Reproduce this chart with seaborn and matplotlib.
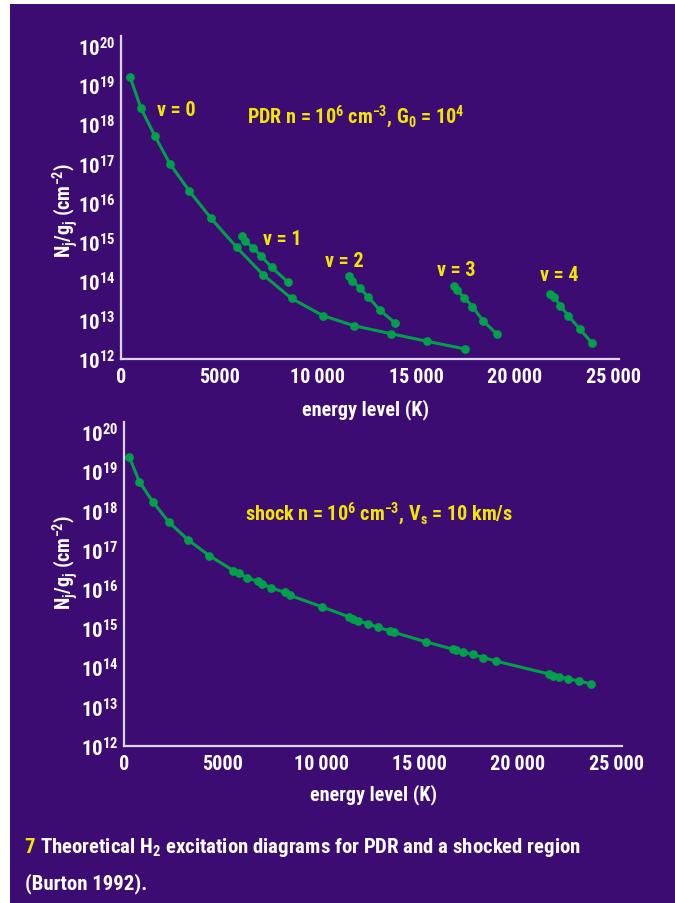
import numpy as np
import pandas as pd
import matplotlib
matplotlib.use("Agg")
import matplotlib.pyplot as plt
import matplotlib.font_manager as fm
import seaborn as sns

# ---------------- data ----------------
# PDR panel: energy (K) and log10(N_j/g_j) per vibrational level
pdr_v0_E = [470, 1015, 1726, 2487, 3467, 4570, 5870, 7208, 8663, 10254, 11844, 13700, 15570, 17460]
pdr_v0_logN = [19.20, 18.41, 17.70, 16.99, 16.30, 15.60, 14.86, 14.16, 13.55, 13.11, 12.85, 12.65, 12.45, 12.26]
pdr_v1_E = [6127, 6310, 6716, 7107, 7665, 8494]
pdr_v1_logN = [15.14, 15.02, 14.84, 14.64, 14.34, 13.96]
pdr_v2_E = [11590, 11760, 12130, 12555, 13150, 13925]
pdr_v2_logN = [14.13, 13.99, 13.82, 13.59, 13.25, 12.92]
pdr_v3_E = [16900, 17060, 17450, 17850, 18390, 19090]
pdr_v3_logN = [13.87, 13.76, 13.57, 13.34, 12.98, 12.64]
pdr_v4_E = [21810, 22010, 22320, 22720, 23300, 23910]
pdr_v4_logN = [13.67, 13.58, 13.36, 13.11, 12.77, 12.42]

# shock panel
shock_E = [254, 762, 1443, 2256, 3222, 4319, 5539, 5828, 6250, 6778, 6997, 7454, 8181, 8405,
           10061, 11402, 11606, 11860, 12398, 12907, 13501, 13720, 15330, 16717, 16855, 17226,
           17703, 18242, 18872, 21580, 21799, 22088, 22561, 23105, 23714]
shock_logN = [19.37, 18.74, 18.23, 17.71, 17.26, 16.85, 16.47, 16.40, 16.29, 16.19, 16.13, 16.03,
              15.91, 15.84, 15.54, 15.29, 15.24, 15.19, 15.11, 15.02, 14.93, 14.89, 14.65, 14.46,
              14.43, 14.40, 14.33, 14.25, 14.16, 13.83, 13.78, 13.76, 13.71, 13.65, 13.58]

x_ticks = [0, 5000, 10000, 15000, 20000, 25000]
x_ticklabels = ["0", "5000", "10\u2009000", "15\u2009000", "20\u2009000", "25\u2009000"]
y_exps = [12, 13, 14, 15, 16, 17, 18, 19, 20]

v_labels = ["v = 0", "v = 1", "v = 2", "v = 3", "v = 4"]

# ---------------- style ----------------
BG = "#3d0c73"
GREEN = "#00a04a"
YELLOW = "#f2e600"
WHITE = "#ffffff"
AXCOL = "#ddd5ee"

sns.set_theme(style="white")

names = {f.name for f in fm.fontManager.ttflist}
if "Roboto Condensed" in names:
    FAM, SC = "Roboto Condensed", 1.0
elif "Liberation Sans Narrow" in names:
    FAM, SC = "Liberation Sans Narrow", 1.0
elif "Roboto" in names:
    FAM, SC = "Roboto", 0.88
else:
    FAM, SC = "Liberation Sans", 0.86

WT = "bold"
plt.rcParams["font.family"] = [FAM, "DejaVu Sans"]
plt.rcParams["font.weight"] = WT
plt.rcParams["mathtext.fontset"] = "custom"
plt.rcParams["mathtext.rm"] = FAM + ":bold"
plt.rcParams["mathtext.it"] = FAM + ":bold"
plt.rcParams["mathtext.bf"] = FAM + ":bold"
plt.rcParams["axes.unicode_minus"] = True

fig = plt.figure(figsize=(6.75, 9.04), dpi=100)
fig.patch.set_facecolor("white")
fig.patches.append(matplotlib.patches.Rectangle((10 / 675, 0), 1 - 10 / 675, 1 - 5 / 904,
                                                transform=fig.transFigure, facecolor=BG,
                                                edgecolor="none", zorder=-10))

ax1 = fig.add_axes([121 / 675, 1 - 360 / 904, 498 / 675, 323 / 904])
ax2 = fig.add_axes([124.3 / 675, 1 - 746.7 / 904, 497.4 / 675, 323.7 / 904])

pdr_frames = []
for v, (E, L) in enumerate([(pdr_v0_E, pdr_v0_logN), (pdr_v1_E, pdr_v1_logN), (pdr_v2_E, pdr_v2_logN),
                            (pdr_v3_E, pdr_v3_logN), (pdr_v4_E, pdr_v4_logN)]):
    pdr_frames.append(pd.DataFrame({"E": E, "N": 10 ** np.array(L), "v": v}))
pdr = pd.concat(pdr_frames, ignore_index=True)
shock = pd.DataFrame({"E": shock_E, "N": 10 ** np.array(shock_logN)})

kw = dict(color=GREEN, marker="o", markersize=6.3, markeredgewidth=0, linewidth=2.2)
sns.lineplot(data=pdr, x="E", y="N", units="v", estimator=None, ax=ax1, **kw)
sns.lineplot(data=shock, x="E", y="N", estimator=None, ax=ax2, **kw)

for ax, xmax in [(ax1, 25300), (ax2, 25275)]:
    ax.set_facecolor("none")
    ax.set_yscale("log")
    ax.set_xlim(0, xmax)
    ax.set_ylim(1e12, 10 ** 20.26)
    ax.set_xticks(x_ticks)
    ax.set_xticklabels(x_ticklabels, fontweight=WT, fontsize=14.5 * SC)
    ax.set_yticks([10.0 ** e for e in y_exps])
    ax.set_yticklabels([r"$\mathregular{10^{%d}}$" % e for e in y_exps], fontweight=WT,
                       fontsize=15 * SC)
    ax.minorticks_off()
    for s in ["top", "right"]:
        ax.spines[s].set_visible(False)
    for s in ["left", "bottom"]:
        ax.spines[s].set_color(AXCOL)
        ax.spines[s].set_linewidth(1.6)
    ax.tick_params(axis="both", direction="in", length=8, width=1.1, color=AXCOL,
                   labelcolor=WHITE)
    ax.tick_params(axis="x", pad=6)
    ax.tick_params(axis="y", pad=4)
    ax.set_xlabel("")
    ax.set_ylabel("")
    ax.grid(False)

FS = 14.5 * SC
ylab = r"N$_\mathregular{j}$/g$_\mathregular{j}$ (cm$^{\mathregular{-2}}$)"
fig.text(65 / 675, 1 - 210 / 904, ylab, rotation=90, ha="center", va="center",
         color=WHITE, fontsize=FS)
fig.text(65 / 675, 1 - 562 / 904, ylab, rotation=90, ha="center", va="center",
         color=WHITE, fontsize=FS)
fig.text(365 / 675, 1 - 410 / 904, "energy level (K)", ha="center", va="center",
         color=WHITE, fontsize=FS)
fig.text(373 / 675, 1 - 795 / 904, "energy level (K)", ha="center", va="center",
         color=WHITE, fontsize=FS)

v_pos = [(2817, 18.39), (8198, 15.07), (11345, 14.51), (17030, 14.28), (22259, 14.15)]
for lab, (x, ly) in zip(v_labels, v_pos):
    ax1.text(x, 10 ** ly, lab, color=YELLOW, fontsize=FS, ha="center", va="center")
ax1.text(6421, 10 ** 18.21,
         r"PDR n = 10$^{\mathregular{6}}$ cm$^{\mathregular{-3}}$, G$_{\mathregular{0}}$ = 10$^{\mathregular{4}}$",
         color=YELLOW, fontsize=FS, ha="left", va="center")
ax2.text(6133, 10 ** 17.95,
         r"shock n = 10$^{\mathregular{6}}$ cm$^{\mathregular{-3}}$, V$_{\mathregular{s}}$ = 10 km/s",
         color=YELLOW, fontsize=FS, ha="left", va="center")

fig.canvas.draw()
r = fig.canvas.get_renderer()
cap_fs = 15 * SC
seven = fig.text(25 / 675, 1 - 848 / 904, "7 ", color=YELLOW, fontsize=cap_fs, ha="left", va="center")
w7 = seven.get_window_extent(r).width
cap = fig.text((25 + w7) / 675, 1 - 848 / 904,
               r"Theoretical H$_{\mathregular{2}}$ excitation diagrams for PDR and a shocked region",
               color=WHITE, fontsize=cap_fs, ha="left", va="center")
total = w7 + cap.get_window_extent(r).width
if total > 558:
    f = 558 / total
    cap_fs *= f
    seven.set_fontsize(cap_fs)
    cap.set_fontsize(cap_fs)
    w7 = seven.get_window_extent(r).width
    cap.set_x((25 + w7) / 675)
fig.text(25 / 675, 1 - 884 / 904, "(Burton 1992).", color=WHITE, fontsize=cap_fs,
         ha="left", va="center")

fig.savefig("out.png", dpi=100, facecolor=fig.get_facecolor())
